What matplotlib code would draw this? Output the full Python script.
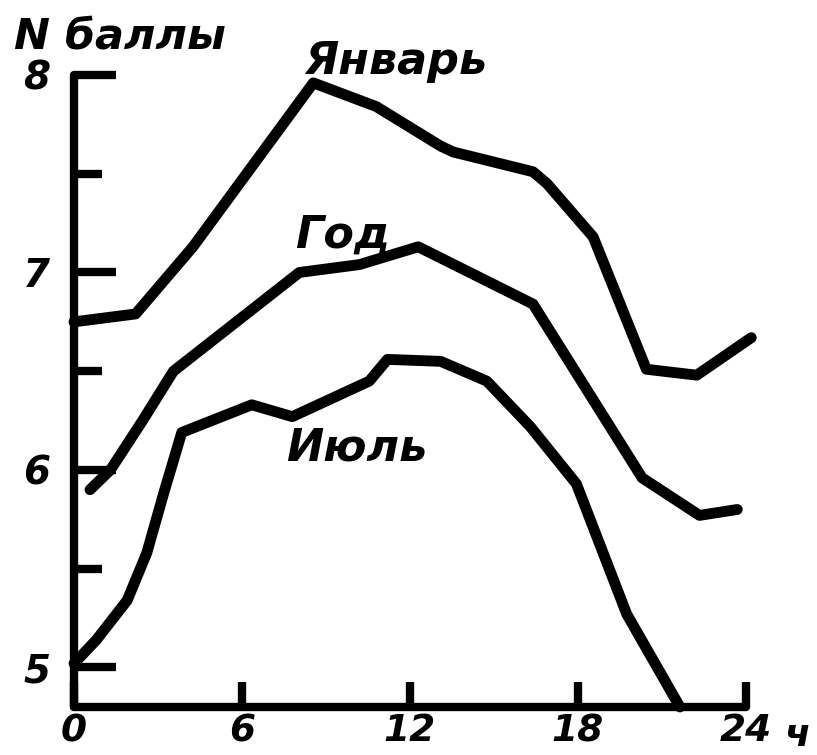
import numpy as np
import matplotlib
matplotlib.use("Agg")
import matplotlib.pyplot as plt

# hours / cloudiness (баллы)
jan_h = [0.0, 2.2, 4.25, 8.55, 10.8, 13.1, 13.55, 16.4, 16.9, 18.55, 20.45, 22.25, 24.2]
jan_n = [6.75, 6.79, 7.13, 7.96, 7.84, 7.64, 7.61, 7.51, 7.45, 7.18, 6.51, 6.48, 6.67]

year_h = [0.57, 1.3, 2.45, 3.55, 8.05, 10.2, 12.3, 16.4, 20.3, 22.35, 23.7]
year_n = [5.90, 6.00, 6.25, 6.50, 7.00, 7.04, 7.13, 6.84, 5.96, 5.77, 5.80]

jul_h = [0.0, 0.8, 1.9, 2.6, 3.2, 3.85, 6.35, 7.8, 10.55, 11.2, 13.1, 14.75, 16.3, 17.95, 19.75, 21.65]
jul_n = [5.02, 5.14, 5.34, 5.58, 5.88, 6.19, 6.33, 6.27, 6.45, 6.56, 6.55, 6.45, 6.22, 5.93, 5.27, 4.80]

x_ticks = [0, 6, 12, 18, 24]
x_labels = ["0", "6", "12", "18", "24"]
y_major = [5, 6, 7, 8]
y_minor = [5.5, 6.5, 7.5]

font = dict(family="DejaVu Sans", weight="bold", style="italic")

fig = plt.figure(figsize=(8.17, 7.55), dpi=100)
ax = fig.add_axes([0.0906, 0.0636, 0.923 - 0.0906, 0.9007 - 0.0636])

for h, n in [(jan_h, jan_n), (year_h, year_n), (jul_h, jul_n)]:
    ax.plot(h, n, color="black", lw=7.8, solid_joinstyle="round",
            solid_capstyle="round", clip_on=False)

ax.set_xlim(0, 24.3)
ax.set_ylim(4.8, 8.0)
for s in ["top", "right"]:
    ax.spines[s].set_visible(False)
ax.spines["bottom"].set_bounds(0, 24)
for s in ["left", "bottom"]:
    ax.spines[s].set_linewidth(6)
    ax.spines[s].set_capstyle("round")

ax.set_xticks(x_ticks)
ax.set_xticklabels(x_labels, fontsize=27, **font)
ax.set_yticks(y_major)
ax.set_yticklabels([str(v) for v in y_major], fontsize=28, **font)
ax.set_yticks(y_minor, minor=True)
ax.tick_params(axis="x", direction="in", length=18, width=6, pad=4.5)
ax.tick_params(axis="y", which="major", direction="in", length=30, width=6, pad=17)
ax.tick_params(axis="y", which="minor", direction="in", length=20, width=6)

ax.text(25.85, -0.061, "ч", transform=ax.get_xaxis_transform(), fontsize=27,
        ha="center", va="baseline", **font)
fig.text(0.017, 0.952, "N баллы", fontsize=31, ha="left", va="center", **font)

ax.text(11.5, 8.07, "Январь", fontsize=32, ha="center", va="center", clip_on=False, **font)
ax.text(9.6, 7.19, "Год", fontsize=32, ha="center", va="center", **font)
ax.text(10.1, 6.11, "Июль", fontsize=32, ha="center", va="center", **font)

fig.savefig("out.png", dpi=100)
